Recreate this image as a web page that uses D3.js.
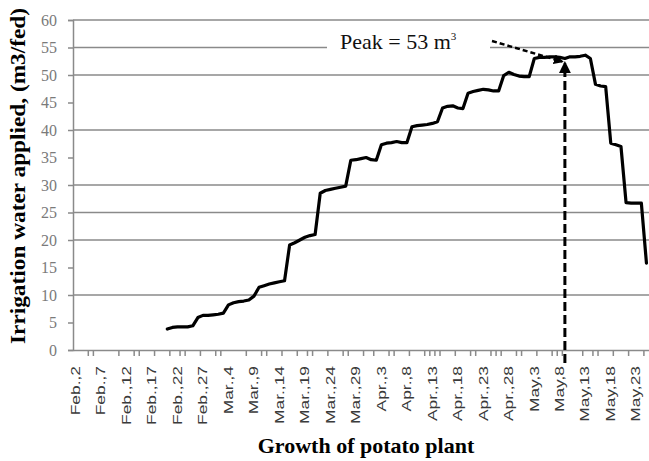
<!DOCTYPE html>
<html>
<head>
<meta charset="utf-8">
<script src="https://cdn.jsdelivr.net/npm/d3@7"></script>
<style>
  html, body { margin: 0; padding: 0; background: #fff; }
  svg { display: block; }
</style>
</head>
<body>
<svg id="chart" width="649" height="461"></svg>
<script>
// Season calendar: Feb 2 through May 25, one category per day
const seasonStart = new Date(2010, 1, 2);
const seasonEnd = new Date(2010, 4, 26);
const monthNames = ["Jan.", "Feb.", "Mar.", "Apr.", "May", "Jun."];

// Labelled days (every fifth day)
const tickLabels = ["Feb.,2", "Feb.,7", "Feb.,12", "Feb.,17", "Feb.,22", "Feb.,27",
  "Mar.,4", "Mar.,9", "Mar.,14", "Mar.,19", "Mar.,24", "Mar.,29",
  "Apr.,3", "Apr.,8", "Apr.,13", "Apr.,18", "Apr.,23", "Apr.,28",
  "May,3", "May,8", "May,13", "May,18", "May,23"];

// Day-boundary tick marks on the category axis
const dayTicks = [3, 4, 9, 12, 13, 16, 19, 21, 22, 25, 28, 29, 34, 37, 38, 41, 44, 46, 47,
  50, 53, 54, 57, 59, 62, 63, 66, 69, 70, 71, 72, 75, 78, 79, 82, 83, 84, 87, 88, 91,
  94, 95, 96, 100, 102, 103, 106, 109, 112];

// First irrigated day (Feb 20) and daily irrigation water applied, m3/fed
const firstIrrigatedDay = "Feb.,20";
const waterApplied = [
  3.8, 4.1, 4.2, 4.2, 4.2, 4.4, 5.9, 6.3, 6.3, 6.4, 6.5, 6.7,
  8.2, 8.6, 8.8, 8.9, 9.1, 9.8, 11.4, 11.7, 12.0, 12.2, 12.4, 12.6,
  19.1, 19.5, 20.0, 20.5, 20.8, 21.0, 28.5, 29.0, 29.2, 29.4, 29.6, 29.8,
  34.5, 34.6, 34.8, 35.0, 34.6, 34.5, 37.3, 37.6, 37.7, 37.9, 37.7, 37.7,
  40.6, 40.8, 40.9, 41.0, 41.2, 41.5, 44.0, 44.3, 44.4, 44.0, 43.9,
  46.7, 47.0, 47.2, 47.4, 47.3, 47.1, 47.1, 49.9, 50.5, 50.1, 49.8, 49.7, 49.7,
  53.0, 53.2, 53.2, 53.3, 53.3, 53.2, 53.0, 53.3, 53.3, 53.4, 53.6, 53.0,
  48.3, 48.0, 47.9, 37.6, 37.3, 37.0, 26.8, 26.7, 26.7, 26.7, 15.8
];

// Peak annotation
const peakDay = "May,9";
const peakValue = 53;

// Value axis
const yTicks = d3.range(0, 61, 5);
const gridValues = [10, 20, 25, 30, 40, 50, 55, 60];

// ---------------------------------------------------------------
const dayLabel = d => monthNames[d.getMonth()] + "," + d.getDate();
const days = d3.timeDay.range(seasonStart, seasonEnd).map(dayLabel);
const startIdx = days.indexOf(firstIrrigatedDay);
const series = waterApplied.map((v, i) => ({ day: days[startIdx + i], value: v }));

const svg = d3.select("#chart");
const plotLeft = 73, plotRight = 649, plotTop = 20, plotBottom = 350;

const x = d3.scaleBand().domain(days).range([plotLeft, plotRight]).paddingInner(0).paddingOuter(0);
const y = d3.scaleLinear().domain([0, 60]).range([plotBottom, plotTop]);
const cx = d => x(d) + x.bandwidth() / 2;

const gray = "#8a8a8a";
const serif = "'Liberation Serif', 'Times New Roman', serif";

// Horizontal gridlines
svg.append("g")
  .selectAll("line")
  .data(gridValues)
  .join("line")
  .attr("x1", plotLeft).attr("x2", plotRight)
  .attr("y1", d => y(d)).attr("y2", d => y(d))
  .attr("stroke", gray).attr("stroke-width", 1.5);

// Value axis
const yAxis = svg.append("g")
  .attr("transform", `translate(${plotLeft},0)`)
  .call(d3.axisLeft(y).tickValues(yTicks).tickSize(5).tickPadding(11));
yAxis.select(".domain").attr("stroke", gray).attr("stroke-width", 1.5);
yAxis.selectAll(".tick line").attr("stroke", gray).attr("stroke-width", 1.5);
yAxis.selectAll(".tick text")
  .attr("fill", "#7a7a7a")
  .style("font-family", serif)
  .style("font-size", "16px");

// Category axis with rotated, elongated day labels
const xAxis = svg.append("g")
  .attr("transform", `translate(0,${plotBottom})`)
  .call(d3.axisBottom(x).tickValues(tickLabels).tickSize(0).tickPadding(0));
xAxis.select(".domain").attr("stroke", gray).attr("stroke-width", 1.5);
xAxis.selectAll(".tick text")
  .attr("transform", "translate(0,16) rotate(-90) scale(1.45,1)")
  .attr("x", 0).attr("y", 0).attr("dy", "0.35em")
  .attr("text-anchor", "end")
  .attr("fill", "#3a3a3a")
  .style("font-family", "'Liberation Sans', Arial, sans-serif")
  .style("font-size", "12px");

svg.append("g")
  .selectAll("line")
  .data(dayTicks)
  .join("line")
  .attr("x1", d => plotLeft + d * x.bandwidth()).attr("x2", d => plotLeft + d * x.bandwidth())
  .attr("y1", plotBottom).attr("y2", plotBottom + 6)
  .attr("stroke", gray).attr("stroke-width", 1.5);

// Irrigation water line
svg.append("path")
  .datum(series)
  .attr("fill", "none")
  .attr("stroke", "#000")
  .attr("stroke-width", 3.2)
  .attr("stroke-linejoin", "round")
  .attr("stroke-linecap", "round")
  .attr("d", d3.line().x(d => cx(d.day)).y(d => y(d.value)));

// Arrowhead marker
const defs = svg.append("defs");
defs.append("marker")
  .attr("id", "arrow")
  .attr("viewBox", "0 0 10 10")
  .attr("refX", 8).attr("refY", 5)
  .attr("markerWidth", 4).attr("markerHeight", 4)
  .attr("orient", "auto")
  .append("path").attr("d", "M0,0L10,5L0,10Z").attr("fill", "#000");

const px = cx(peakDay), py = y(peakValue);

// Vertical dashed arrow up to the peak
svg.append("line")
  .attr("x1", px).attr("x2", px)
  .attr("y1", plotBottom + 13).attr("y2", py + 5)
  .attr("stroke", "#000").attr("stroke-width", 3)
  .attr("stroke-dasharray", "9,4")
  .attr("marker-end", "url(#arrow)");

// Peak label on a white box
const label = svg.append("g").attr("transform", "translate(340,49)");
label.append("rect")
  .attr("x", -13).attr("y", -14).attr("width", 163).attr("height", 23)
  .attr("fill", "#fff");
const lt = label.append("text")
  .style("font-family", serif)
  .style("font-size", "22px")
  .attr("fill", "#111");
lt.append("tspan").text(`Peak = ${peakValue} m`);
lt.append("tspan").attr("dy", -9).style("font-size", "11px").text("3");

// Dashed pointer from label to peak
svg.append("line")
  .attr("x1", 492).attr("y1", 41)
  .attr("x2", px - 3).attr("y2", py + 3)
  .attr("stroke", "#000").attr("stroke-width", 2.5)
  .attr("stroke-dasharray", "5,3")
  .attr("marker-end", "url(#arrow)");

// Axis titles
svg.append("text")
  .attr("transform", `translate(${(plotLeft + plotRight) / 2 + 5},453)`)
  .attr("text-anchor", "middle")
  .style("font-family", serif)
  .style("font-weight", "bold")
  .style("font-size", "22px")
  .text("Growth of potato plant");

svg.append("text")
  .attr("transform", "translate(25,344) rotate(-90) scale(1.11,1)")
  .attr("text-anchor", "start")
  .style("font-family", serif)
  .style("font-weight", "bold")
  .style("font-size", "21px")
  .text("Irrigation water applied, (m3/fed)");
</script>
</body>
</html>
